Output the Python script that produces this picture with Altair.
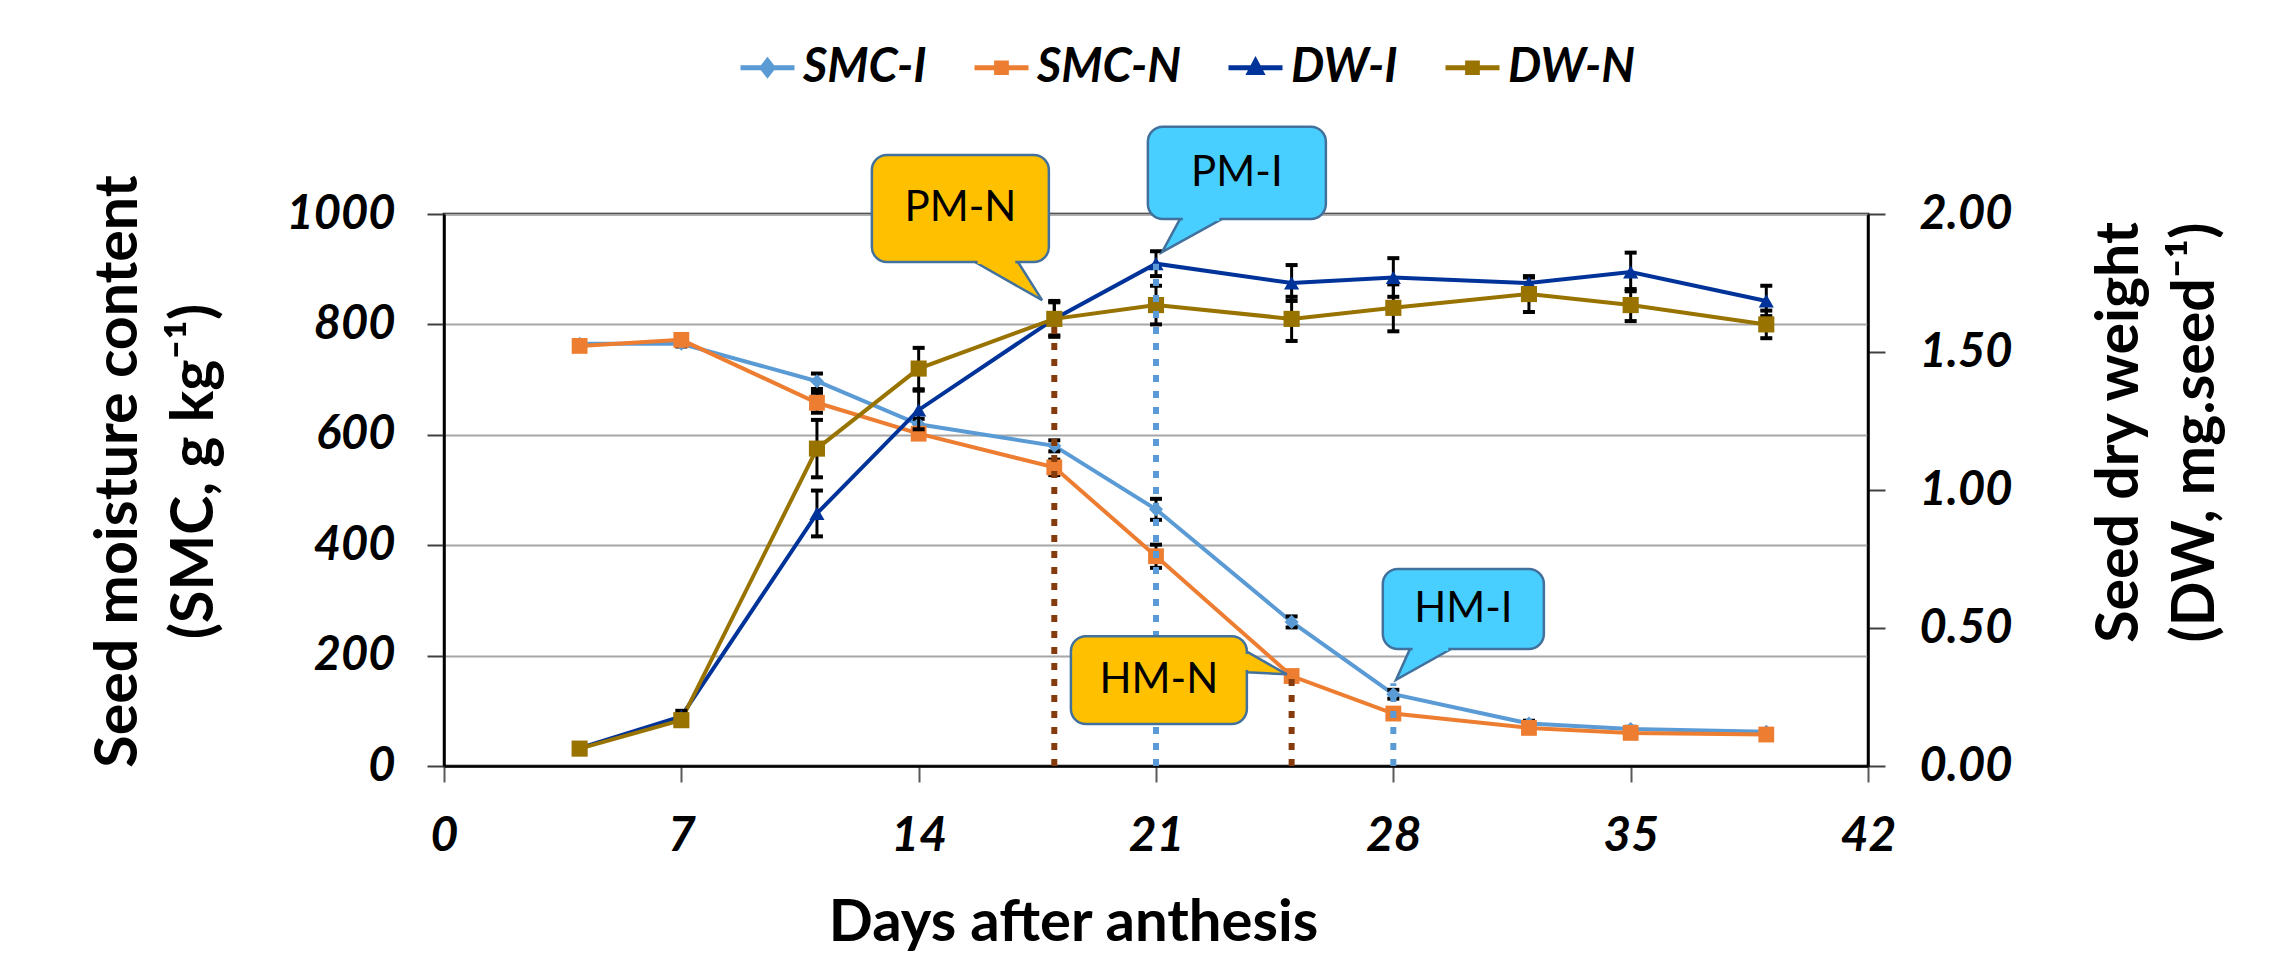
import altair as alt
import pandas as pd

# ---------------- data ----------------
days = [4, 7, 11, 14, 18, 21, 25, 28, 32, 35, 39]

smc_i = [765, 765, 697, 619, 580, 465, 261, 130, 77, 67, 62]
smc_n = [761, 772, 658, 602, 541, 380, 163, 95, 69, 60, 57]
smc_i_err = [5, 5, 14, 10, 10, 19, 10, 8, 5, 4, 3]
smc_n_err = [5, 5, 18, 8, 14, 21, 5, 5, 5, 4, 3]

dw_i = [0.065, 0.180, 0.915, 1.290, 1.620, 1.820, 1.750, 1.770, 1.750, 1.790, 1.685]
dw_n = [0.063, 0.166, 1.150, 1.440, 1.620, 1.670, 1.620, 1.660, 1.710, 1.670, 1.600]
dw_i_err = [0.01, 0.02, 0.083, 0.07, 0.06, 0.045, 0.065, 0.07, 0.02, 0.07, 0.055]
dw_n_err = [0.01, 0.02, 0.104, 0.075, 0.065, 0.07, 0.08, 0.085, 0.065, 0.058, 0.05]

series_names = ["SMC-I", "SMC-N", "DW-I", "DW-N"]
series_colors = ["#5B9BD5", "#ED7D31", "#003399", "#997300"]
marker_shapes = ["diamond", "square", "triangle-up", "square"]
marker_sizes = [200, 250, 230, 260]
legend_symbols = [
    "M-1,0H1M0,-0.26L0.2,0L0,0.26L-0.2,0Z",
    "M-1,0H1M-0.18,-0.18H0.18V0.18H-0.18Z",
    "M-1,0H1M0,-0.24L0.22,0.18H-0.22Z",
    "M-1,0H1M-0.18,-0.18H0.18V0.18H-0.18Z",
]

x_ticks = [0, 7, 14, 21, 28, 35, 42]
smc_ticks = [0, 200, 400, 600, 800, 1000]
dw_ticks = [0.0, 0.5, 1.0, 1.5, 2.0]

# maturity marker lines (SMC-axis units)
mark_days = [18, 21, 25, 28]
mark_tops = [810, 910, 163, 150]
mark_colors = ["#843C0C", "#5B9BD5", "#843C0C", "#5B9BD5"]

# callouts (day / SMC-axis units)
callout_labels = ["PM-N", "PM-I", "HM-N", "HM-I"]
callout_fill = ["#FFC000", "#48CFFF", "#FFC000", "#48CFFF"]
callout_x1 = [12.62, 20.76, 18.49, 27.69]
callout_x2 = [17.84, 26.01, 23.68, 32.44]
callout_y1 = [913, 991, 76, 212]
callout_y2 = [1107, 1158, 235, 357]

# downward tails: base on bottom edge, tip
tail_ids = ["PM-N", "PM-I", "HM-I"]
tail_fill = ["#FFC000", "#48CFFF", "#48CFFF"]
tail_base_y = [913, 991, 212]
tail_base_a = [15.66, 21.71, 28.49]
tail_base_b = [16.93, 22.95, 29.70]
tail_tip_x = [17.64, 21.18, 28.08]
tail_tip_y = [844, 931, 156]

# sideways tail (HM-N): base on right edge, tip
side_base_x = [23.68]
side_base_lo = [170]
side_base_hi = [207]
side_tip_x = [24.86]
side_tip_y = [166]
side_fill = ["#FFC000"]

# ---------------- tables ----------------
def make_df(names, vals_list, errs_list):
    rows = []
    for name, vals, errs in zip(names, vals_list, errs_list):
        k = series_names.index(name)
        for d, v, e in zip(days, vals, errs):
            rows.append(dict(day=d, value=v, lo=v - e, hi=v + e, series=name,
                             shape=marker_shapes[k], msize=marker_sizes[k]))
    return pd.DataFrame(rows)

smc_df = make_df(["SMC-I", "SMC-N"], [smc_i, smc_n], [smc_i_err, smc_n_err])
dw_df = make_df(["DW-I", "DW-N"], [dw_i, dw_n], [dw_i_err, dw_n_err])

rules_df = pd.DataFrame({"day": mark_days, "bottom": [0] * len(mark_days),
                         "top": mark_tops, "color": mark_colors})
box_df = pd.DataFrame({"label": callout_labels, "fill": callout_fill,
                       "x1": callout_x1, "x2": callout_x2,
                       "y1": callout_y1, "y2": callout_y2})
box_df["cx"] = (box_df.x1 + box_df.x2) / 2
box_df["cy"] = (box_df.y1 + box_df.y2) / 2

th_rows = []
for i, tid in enumerate(tail_ids):
    th_rows.append(dict(id=tid, fill=tail_fill[i], ty=tail_base_y[i],
                        tx=tail_base_a[i], tx2=tail_base_b[i]))
    th_rows.append(dict(id=tid, fill=tail_fill[i], ty=tail_tip_y[i],
                        tx=tail_tip_x[i], tx2=tail_tip_x[i]))
th_df = pd.DataFrame(th_rows)
thc_df = pd.DataFrame({"fill": tail_fill, "y": tail_base_y,
                       "xa": [a + 0.08 for a in tail_base_a],
                       "xb": [b - 0.08 for b in tail_base_b]})

tv_rows = []
for i in range(len(side_base_x)):
    tv_rows.append(dict(id=i, fill=side_fill[i], tx=side_base_x[i],
                        ty=side_base_lo[i], ty2=side_base_hi[i]))
    tv_rows.append(dict(id=i, fill=side_fill[i], tx=side_tip_x[i],
                        ty=side_tip_y[i], ty2=side_tip_y[i]))
tv_df = pd.DataFrame(tv_rows)
tvc_df = pd.DataFrame({"fill": side_fill, "x": side_base_x,
                       "ya": [v + 4 for v in side_base_lo],
                       "yb": [v - 4 for v in side_base_hi]})

legend_df = pd.DataFrame({"series": series_names})

# ---------------- encodings ----------------
FONT = "Lato"
x_scale = alt.Scale(domain=[0, 42], nice=False, zero=False)
x_axis = alt.Axis(values=x_ticks, title="Days after anthesis", grid=False,
                  titleFont=FONT, titleFontSize=58, titleFontWeight="bold",
                  titleColor="black", titleX=629, titleY=174, titleAlign="center",
                  titleBaseline="alphabetic",
                  labelFont=FONT, labelFontSize=48, labelFontStyle="italic",
                  labelFontWeight="bold", labelColor="black", labelPadding=30,
                  labelFlush=False, tickSize=16, tickColor="#595959", tickWidth=2,
                  domainColor="black", domainWidth=2.5)


def X(field):
    return alt.X(field, scale=x_scale, axis=x_axis)


smc_scale = alt.Scale(domain=[0, 1000], nice=False, zero=True)
smc_axis = alt.Axis(values=smc_ticks, format="d", orient="left",
                    title=["Seed moisture content", "(SMC, g kg\u207b\u00b9)"],
                    titleFont=FONT, titleFontSize=59, titleFontWeight="bold",
                    titleColor="black", titleAngle=270, titleX=-308, titleY=257,
                    titleAlign="center", titleBaseline="alphabetic", titleLineHeight=76,
                    labelFont=FONT, labelFontSize=47, labelFontStyle="italic",
                    labelFontWeight="bold", labelColor="black", labelPadding=32,
                    tickSize=17, tickColor="#404040", tickWidth=2,
                    domainColor="black", domainWidth=2.5,
                    grid=True, gridColor="#A6A6A6", gridWidth=2)
dw_scale = alt.Scale(domain=[0, 2], nice=False, zero=True)
dw_axis = alt.Axis(values=dw_ticks, format=".2f", orient="right",
                   title=["Seed dry weight", "(DW, mg.seed\u207b\u00b9)"],
                   titleFont=FONT, titleFontSize=59, titleFontWeight="bold",
                   titleColor="black", titleAngle=270, titleX=269, titleY=218,
                   titleAlign="center", titleBaseline="alphabetic", titleLineHeight=76,
                   labelFont=FONT, labelFontSize=47, labelFontStyle="italic",
                   labelFontWeight="bold", labelColor="black", labelPadding=34,
                   tickSize=17, tickColor="#404040", tickWidth=2,
                   domainColor="black", domainWidth=2.5, grid=False)
ann_scale = alt.Scale(domain=[0, 1000], nice=False, zero=True)

color_enc = alt.Color("series:N", scale=alt.Scale(domain=series_names, range=series_colors),
                      legend=None)


def series_layer(df, yscale, yaxis):
    def Y(field):
        return alt.Y(field, scale=yscale, axis=yaxis)
    base = alt.Chart(df)
    lines = base.mark_line(strokeWidth=4).encode(x=X("day:Q"), y=Y("value:Q"), color=color_enc)
    err = base.mark_rule(color="black", strokeWidth=3).encode(
        x=X("day:Q"), y=Y("lo:Q"), y2="hi:Q")
    caps = base.transform_fold(["lo", "hi"], as_=["end", "yv"]).mark_tick(
        color="black", thickness=4, size=12, orient="horizontal", opacity=1).encode(
        x=X("day:Q"), y=Y("yv:Q"))
    pts = base.mark_point(filled=True, opacity=1).encode(
        x=X("day:Q"), y=Y("value:Q"), color=color_enc,
        shape=alt.Shape("shape:N", scale=None, legend=None),
        size=alt.Size("msize:Q", scale=None, legend=None))
    return alt.layer(lines, err, caps, pts)


smc_layer = series_layer(smc_df, smc_scale, smc_axis)
dw_layer = series_layer(dw_df, dw_scale, dw_axis)


def AY(field):
    return alt.Y(field, scale=ann_scale, axis=None)


def C(field):
    return alt.Color(field, scale=None, legend=None)


rules = alt.Chart(rules_df).mark_rule(strokeWidth=6, strokeDash=[7, 9], strokeCap="butt").encode(
    x=X("day:Q"), y=AY("bottom:Q"), y2="top:Q", color=C("color:N"))

boxes = alt.Chart(box_df).mark_rect(cornerRadius=15, stroke="#41719C", strokeWidth=2.5).encode(
    x=X("x1:Q"), x2="x2:Q", y=AY("y1:Q"), y2="y2:Q", color=C("fill:N"))

tails_h = alt.Chart(th_df).mark_area(orient="horizontal", stroke="#41719C", strokeWidth=2.5,
                                     opacity=1).encode(
    y=AY("ty:Q"), x=X("tx:Q"), x2="tx2:Q", detail="id:N", color=C("fill:N"))
cover_h = alt.Chart(thc_df).mark_rule(strokeWidth=4).encode(
    x=X("xa:Q"), x2="xb:Q", y=AY("y:Q"), color=C("fill:N"))

tails_v = alt.Chart(tv_df).mark_area(orient="vertical", stroke="#41719C", strokeWidth=2.5,
                                     opacity=1).encode(
    x=X("tx:Q"), y=AY("ty:Q"), y2="ty2:Q", detail="id:N", color=C("fill:N"))
cover_v = alt.Chart(tvc_df).mark_rule(strokeWidth=4).encode(
    x=X("x:Q"), y=AY("ya:Q"), y2="yb:Q", color=C("fill:N"))

texts = alt.Chart(box_df).mark_text(font=FONT, fontSize=42, color="black",
                                    align="center", baseline="middle").encode(
    x=X("cx:Q"), y=AY("cy:Q"), text="label:N")

annot_layer = alt.layer(rules, tails_h, tails_v, boxes, cover_h, cover_v, texts)

leg = alt.Legend(orient="none", legendX=294, legendY=-176, direction="horizontal",
                 title=None, columns=4, labelFont=FONT, labelFontSize=47,
                 labelFontStyle="italic", labelFontWeight="bold", labelColor="black",
                 symbolSize=2916, symbolStrokeWidth=5, symbolOpacity=1,
                 labelOffset=6, columnPadding=37, labelLimit=500)
legend_scale_col = alt.Scale(domain=series_names, range=series_colors)
# legend carrier: points parked outside the canvas, only their legend is seen
legend_layer = alt.Chart(legend_df).mark_point(filled=True, size=10, opacity=1).encode(
    x=alt.value(-4000), y=alt.value(-4000),
    fill=alt.Fill("series:N", scale=legend_scale_col, legend=leg),
    stroke=alt.Stroke("series:N", scale=legend_scale_col, legend=leg),
    shape=alt.Shape("series:N", scale=alt.Scale(domain=series_names, range=legend_symbols),
                    legend=leg),
)

chart = alt.layer(smc_layer, dw_layer, annot_layer, legend_layer).resolve_scale(
    y="independent", shape="independent", fill="independent", stroke="independent"
).properties(
    width=1424, height=552,
    autosize=alt.AutoSizeParams(type="none"),
    padding={"left": 436, "top": 206, "right": 407, "bottom": 188},
    background="white",
).configure_view(stroke="black", strokeWidth=2.5)

chart.save("out.html", embed_options={"renderer": "svg", "actions": False})
